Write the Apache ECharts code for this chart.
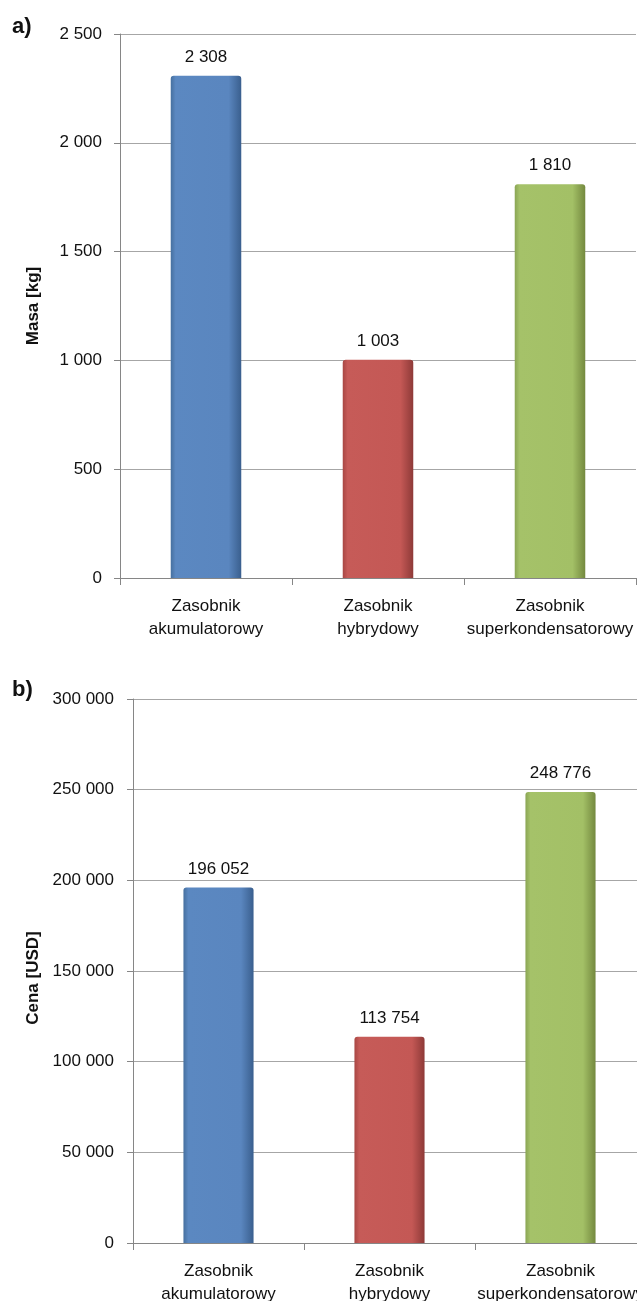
<!DOCTYPE html>
<html>
<head>
<meta charset="utf-8">
<script src="https://cdn.jsdelivr.net/npm/echarts@6/dist/echarts.min.js"></script>
<style>
html,body{margin:0;padding:0;background:#fff;}
#chart{width:637px;height:1301px;}
</style>
</head>
<body>
<div id="chart"></div>
<script>
const categories = ['Zasobnik\nakumulatorowy', 'Zasobnik\nhybrydowy', 'Zasobnik\nsuperkondensatorowy'];
const massValues = [2308, 1003, 1810];
const priceValues = [196052, 113754, 248776];
const massAxis = { min: 0, max: 2500, interval: 500, name: 'Masa [kg]' };
const priceAxis = { min: 0, max: 300000, interval: 50000, name: 'Cena [USD]' };
const panelLabels = ['a)', 'b)'];

const FONT = '"Liberation Sans", Arial, sans-serif';
const FS = 17;
const fmt = v => String(v).replace(/\B(?=(\d{3})+(?!\d))/g, ' ');

const palettes = [
  ['#46709f', '#5b88c1', '#5a86bf', '#3a5f8e'],
  ['#a84744', '#c65b58', '#c45855', '#8e3a38'],
  ['#8aa554', '#a5c269', '#a3c066', '#74893f']
];
function barColor(i) {
  const p = palettes[i];
  return new echarts.graphic.LinearGradient(0, 0, 1, 0, [
    { offset: 0, color: p[0] },
    { offset: 0.07, color: p[1] },
    { offset: 0.82, color: p[2] },
    { offset: 1, color: p[3] }
  ]);
}

function mkData(vals) {
  return vals.map((v, i) => ({ value: v, itemStyle: { color: barColor(i) } }));
}

const axisLabelStyle = { color: '#111', fontFamily: FONT, fontSize: FS };

function yAxis(idx, ax, gap, margin, pad) {
  return {
    type: 'value', gridIndex: idx, min: ax.min, max: ax.max, interval: ax.interval,
    name: ax.name, nameLocation: 'middle', nameGap: gap, nameRotate: 90,
    nameTextStyle: { color: '#111', fontFamily: FONT, fontSize: FS, fontWeight: 'bold', padding: pad },
    axisLine: { show: true, lineStyle: { color: '#868686', width: 1 } },
    axisTick: { show: true, length: 6, inside: false, lineStyle: { color: '#868686' } },
    axisLabel: Object.assign({ margin: margin, formatter: fmt }, axisLabelStyle),
    splitLine: { show: true, lineStyle: { color: '#a6a6a6', width: 1 } }
  };
}
function xAxis(idx) {
  return {
    type: 'category', gridIndex: idx, data: categories,
    axisLine: { show: true, lineStyle: { color: '#868686', width: 1 } },
    axisTick: { show: true, length: 7, lineStyle: { color: '#868686' } },
    axisLabel: Object.assign({ margin: 17, lineHeight: 23, interval: 0, overflow: 'none', hideOverlap: false }, axisLabelStyle)
  };
}
function barSeries(idx, vals) {
  return {
    type: 'bar', xAxisIndex: idx, yAxisIndex: idx, data: mkData(vals),
    barWidth: '41%',
    itemStyle: { borderRadius: [3, 3, 0, 0] },
    label: { show: true, position: 'top', distance: 10, formatter: p => fmt(p.value),
      color: '#111', fontFamily: FONT, fontSize: FS }
  };
}

const chart = echarts.init(document.getElementById('chart'), null, { renderer: 'canvas' });
chart.setOption({
  animation: false,
  backgroundColor: '#fff',
  grid: [
    { left: 120, top: 34, height: 544, right: 1, containLabel: false, outerBoundsMode: 'none' },
    { left: 133, top: 699, height: 544, right: -9, containLabel: false, outerBoundsMode: 'none' }
  ],
  xAxis: [xAxis(0), xAxis(1)],
  yAxis: [yAxis(0, massAxis, 78, 18, [0, 0, 0, 0]), yAxis(1, priceAxis, 90, 19, [0, 14, 0, 0])],
  series: [barSeries(0, massValues), barSeries(1, priceValues)],
  graphic: [
    { type: 'text', left: 12, top: 16, style: { text: panelLabels[0], font: 'bold 22px ' + FONT, fill: '#111' } },
    { type: 'text', left: 12, top: 679, style: { text: panelLabels[1], font: 'bold 22px ' + FONT, fill: '#111' } }
  ]
});
</script>
</body>
</html>
